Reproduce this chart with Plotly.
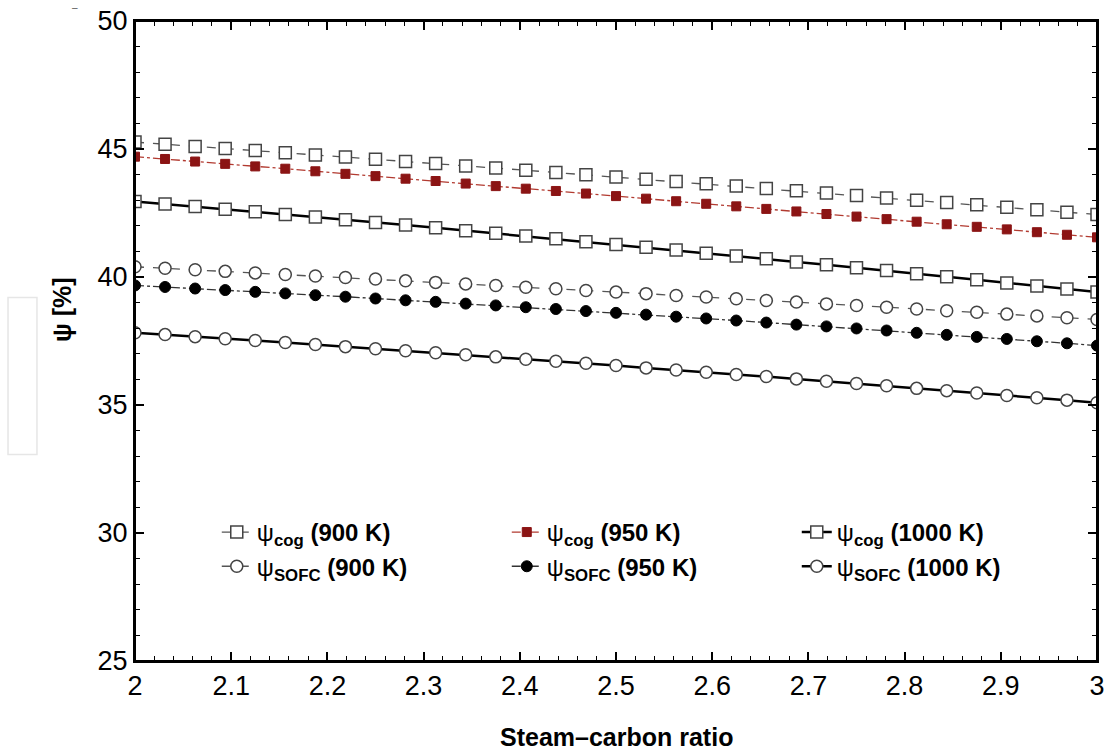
import plotly.graph_objects as go

# Steam-carbon ratio (33 points, step 1/32)
steam_carbon = [2.0, 2.03125, 2.0625, 2.09375, 2.125, 2.15625, 2.1875, 2.21875,
                2.25, 2.28125, 2.3125, 2.34375, 2.375, 2.40625, 2.4375, 2.46875,
                2.5, 2.53125, 2.5625, 2.59375, 2.625, 2.65625, 2.6875, 2.71875,
                2.75, 2.78125, 2.8125, 2.84375, 2.875, 2.90625, 2.9375, 2.96875, 3.0]

psi_cog_900 = [45.27, 45.19, 45.10, 45.02, 44.94, 44.85, 44.77, 44.69, 44.60, 44.51, 44.43,
               44.34, 44.26, 44.17, 44.08, 43.99, 43.91, 43.82, 43.73, 43.64, 43.55, 43.46,
               43.37, 43.28, 43.18, 43.09, 43.00, 42.91, 42.82, 42.72, 42.63, 42.53, 42.44]
psi_cog_950 = [44.70, 44.61, 44.51, 44.42, 44.32, 44.23, 44.13, 44.03, 43.94, 43.84, 43.75,
               43.65, 43.55, 43.45, 43.36, 43.26, 43.16, 43.06, 42.96, 42.86, 42.76, 42.66,
               42.56, 42.46, 42.36, 42.26, 42.16, 42.06, 41.96, 41.86, 41.75, 41.65, 41.55]
psi_cog_1000 = [42.95, 42.85, 42.75, 42.65, 42.55, 42.44, 42.34, 42.24, 42.13, 42.03, 41.92,
                41.81, 41.71, 41.60, 41.49, 41.38, 41.27, 41.16, 41.05, 40.93, 40.82, 40.71,
                40.59, 40.48, 40.36, 40.25, 40.13, 40.01, 39.89, 39.77, 39.65, 39.53, 39.41]
psi_sofc_900 = [40.40, 40.34, 40.28, 40.22, 40.16, 40.10, 40.04, 39.98, 39.92, 39.85, 39.79,
                39.73, 39.67, 39.60, 39.54, 39.47, 39.41, 39.35, 39.28, 39.22, 39.15, 39.08,
                39.02, 38.95, 38.89, 38.82, 38.75, 38.68, 38.62, 38.55, 38.48, 38.41, 38.34]
psi_sofc_950 = [39.67, 39.61, 39.55, 39.49, 39.42, 39.36, 39.29, 39.23, 39.16, 39.09, 39.03,
                38.96, 38.89, 38.82, 38.75, 38.67, 38.60, 38.53, 38.45, 38.38, 38.30, 38.22,
                38.14, 38.07, 37.99, 37.91, 37.82, 37.74, 37.66, 37.58, 37.49, 37.41, 37.32]
psi_sofc_1000 = [37.82, 37.75, 37.67, 37.59, 37.52, 37.44, 37.36, 37.28, 37.20, 37.12, 37.04,
                 36.96, 36.88, 36.79, 36.71, 36.63, 36.54, 36.45, 36.37, 36.28, 36.19, 36.11,
                 36.02, 35.93, 35.84, 35.75, 35.65, 35.56, 35.47, 35.37, 35.28, 35.19, 35.09]

series_names = [
    "ψ<b><sub>cog</sub> (900 K)</b>",
    "ψ<b><sub>cog</sub> (950 K)</b>",
    "ψ<b><sub>cog</sub> (1000 K)</b>",
    "ψ<b><sub>SOFC</sub> (900 K)</b>",
    "ψ<b><sub>SOFC</sub> (950 K)</b>",
    "ψ<b><sub>SOFC</sub> (1000 K)</b>",
]
series_values = [psi_cog_900, psi_cog_950, psi_cog_1000, psi_sofc_900, psi_sofc_950, psi_sofc_1000]
y_tick_values = [25, 30, 35, 40, 45, 50]

styles = [
    dict(line=dict(color="#555555", width=1.3, dash="dash"),
         marker=dict(symbol="square", size=12, color="white", line=dict(color="#444444", width=1.5))),
    dict(line=dict(color="#b23a30", width=1.3, dash="dashdot"),
         marker=dict(symbol="square", size=9, color="#8b1414", line=dict(color="#8b1414", width=1))),
    dict(line=dict(color="black", width=2.5, dash="solid"),
         marker=dict(symbol="square", size=12, color="white", line=dict(color="#444444", width=1.5))),
    dict(line=dict(color="#555555", width=1.3, dash="dash"),
         marker=dict(symbol="circle", size=12, color="white", line=dict(color="#444444", width=1.5))),
    dict(line=dict(color="#333333", width=1.3, dash="dashdot"),
         marker=dict(symbol="circle", size=11, color="black", line=dict(color="black", width=1))),
    dict(line=dict(color="black", width=2.5, dash="solid"),
         marker=dict(symbol="circle", size=12, color="white", line=dict(color="#444444", width=1.5))),
]

fig = go.Figure()
for name, vals, st in zip(series_names, series_values, styles):
    fig.add_trace(go.Scatter(x=steam_carbon, y=vals, mode="lines+markers", name=name,
                             line=st["line"], marker=st["marker"]))

font_family = "Liberation Sans, Arial, sans-serif"

fig.update_layout(
    width=1109, height=751,
    margin=dict(l=135, r=12, t=21, b=90, autoexpand=False),
    paper_bgcolor="white", plot_bgcolor="white",
    font=dict(family=font_family, color="black"),
    showlegend=True,
    legend=dict(orientation="h", x=0.085, y=0.236, xanchor="left", yanchor="top",
                entrywidth=245, entrywidthmode="pixels", bgcolor="rgba(0,0,0,0)",
                font=dict(size=24, family=font_family), tracegroupgap=0),
    xaxis=dict(range=[2, 3], dtick=0.1, tick0=2, showgrid=False, zeroline=False,
               showline=True, linecolor="black", linewidth=2, mirror="allticks",
               ticks="inside", ticklen=9, tickwidth=1.5, tickcolor="black",
               tickfont=dict(size=27), automargin=False, ticklabeloverflow="allow",
               minor=dict(dtick=0.02, ticks="inside", ticklen=5, tickwidth=1.2, tickcolor="black")),
    yaxis=dict(range=[25, 50], tickmode="array", tickvals=y_tick_values,
               showgrid=False, zeroline=False,
               showline=True, linecolor="black", linewidth=2, mirror="allticks",
               ticks="inside", ticklen=9, tickwidth=1.5, tickcolor="black",
               tickfont=dict(size=27), automargin=False, ticklabeloverflow="allow",
               minor=dict(dtick=1, ticks="inside", ticklen=5, tickwidth=1.2, tickcolor="black")),
    shapes=[
        dict(type="rect", xref="paper", yref="paper", x0=0, x1=1, y0=0, y1=1,
             line=dict(color="black", width=2), layer="above"),
        dict(type="rect", xref="paper", yref="paper", x0=-0.132, x1=-0.1019,
             y0=0.3227, y1=0.568, line=dict(color="#e6e6e6", width=1.5)),
    ],
    annotations=[
        dict(text="<b>Steam–carbon ratio</b>", xref="paper", yref="paper", x=0.5, y=-0.1195,
             xanchor="center", yanchor="middle", showarrow=False, font=dict(size=25)),
        dict(text="<b>ψ [%]</b>", xref="paper", yref="paper", x=-0.0759, y=0.55,
             xanchor="center", yanchor="middle", textangle=-90, showarrow=False,
             font=dict(size=25)),
        dict(text="–", xref="paper", yref="paper", x=-0.0624, y=1.0205,
             xanchor="center", yanchor="middle",
             showarrow=False, font=dict(size=10, color="#555555")),
    ],
)

fig.write_html("out.html", config={"displayModeBar": False},
               post_script="document.body.style.margin='0';document.body.style.overflow='hidden';")
